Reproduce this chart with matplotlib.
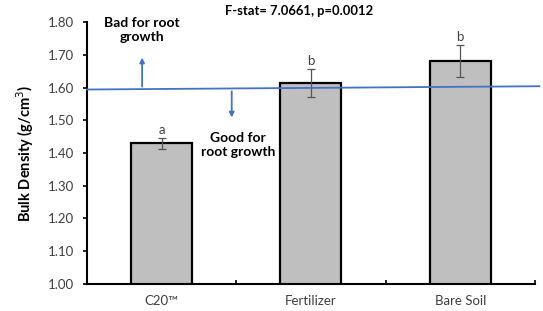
import matplotlib.pyplot as plt
import numpy as np

plt.rcParams['font.family'] = ['Lato', 'DejaVu Sans']

# data
treatments = ['C20\u2122', 'Fertilizer', 'Bare Soil']
bulk_density = [1.43, 1.614, 1.681]
std_err = [0.017, 0.043, 0.048]
letters = ['a', 'b', 'b']
threshold = [1.594, 1.604]   # blue line, left and right ends
yticks = np.arange(1.00, 1.81, 0.10)

fig = plt.figure(figsize=(5.43, 3.11), dpi=100)
ax = fig.add_axes([0.160, 0.087, 0.825, 0.842])

x = np.arange(len(treatments))
ax.bar(x, bulk_density, width=0.41, color='#bfbfbf', edgecolor='black', linewidth=1.6, zorder=2)
ax.errorbar(x, bulk_density, yerr=std_err, fmt='none', ecolor='#555555',
            elinewidth=0.9, capsize=3, capthick=0.9, zorder=3)
for xi, v, e, l in zip(x, bulk_density, std_err, letters):
    ax.text(xi, v + e + 0.006, l, ha='center', va='bottom', fontsize=9.5, color='#404040')

ax.set_xlim(-0.5, 2.5)
ax.set_ylim(1.0, 1.8)
ax.set_yticks(yticks)
ax.set_yticklabels([f'{t:.2f}' for t in yticks], fontsize=9.5, color='#404040')
ax.set_xticks(x)
ax.set_xticklabels(treatments, fontsize=9.5, color='#404040')
ax.tick_params(axis='x', length=0, pad=8)
ax.set_xticks([0.5, 1.5, 2.5], minor=True)
ax.tick_params(axis='x', which='minor', direction='in', length=3, width=1.2)
ax.tick_params(axis='y', direction='out', length=3, width=1.2, pad=6)
for s in ['top', 'right']:
    ax.spines[s].set_visible(False)
for s in ['left', 'bottom']:
    ax.spines[s].set_linewidth(1.5)

ax.set_ylabel('Bulk Density (g/cm$^3$)', fontsize=10.5, fontweight='bold', labelpad=9)

# threshold line
ax.plot([-0.5, 2.53], threshold, color='#4472c4', lw=1.3, clip_on=False, zorder=4)
ax.annotate('', xy=(-0.13, 1.70), xytext=(-0.13, 1.5945),
            arrowprops=dict(arrowstyle='-|>', color='#4472c4', lw=1.3, mutation_scale=7))
ax.annotate('', xy=(0.47, 1.50), xytext=(0.47, 1.597),
            arrowprops=dict(arrowstyle='-|>', color='#4472c4', lw=1.3, mutation_scale=7))
ax.text(-0.13, 1.777, 'Bad for root\ngrowth', ha='center', va='center',
        fontsize=10, fontweight='bold', linespacing=1.2)
ax.text(0.51, 1.424, 'Good for\nroot growth', ha='center', va='center',
        fontsize=10, fontweight='bold', linespacing=1.2)
ax.text(0.92, 1.835, 'F-stat= 7.0661, p=0.0012', ha='center', va='center',
        fontsize=9.4, fontweight='bold')

fig.savefig('out.png', dpi=100)
